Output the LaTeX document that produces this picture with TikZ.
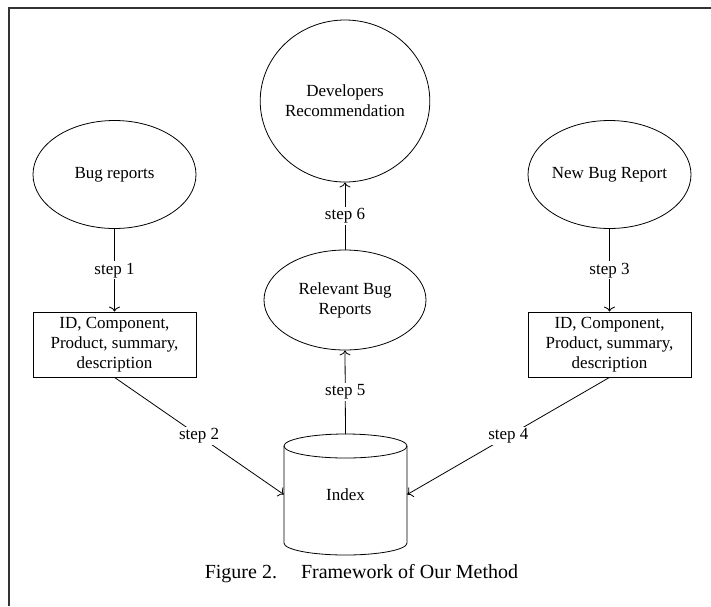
\documentclass[tikz,border=0pt]{standalone}
\usepackage{fontspec}
\setmainfont{Liberation Serif}
\usetikzlibrary{arrows.meta,shapes.geometric}
\begin{document}
\begin{tikzpicture}[x=1pt,y=-1pt,
  every node/.style={font=\fontsize{17}{20}\selectfont},
  oval/.style={draw, ellipse, inner sep=0pt, align=center, line width=0.8pt},
  infobox/.style={draw, rectangle, inner sep=0pt, minimum width=163pt, minimum height=65pt, align=center, line width=0.8pt},
  conn/.style={line width=0.8pt},
  arr/.style={conn, -{To[length=5pt,width=11pt]}},
  lbl/.style={fill=white, inner sep=1.5pt}
]
\useasboundingbox (0,0) rectangle (711,606);
% frame
\draw[line width=1.6pt, black!80] (9,606) -- (9,8) -- (711,8);

\node[oval, minimum width=161pt, minimum height=162pt] (dev) at (345,101) {Developers\\Recommendation};
\node[oval, minimum width=162pt, minimum height=100pt] (rel) at (345,300) {Relevant Bug\\Reports};
\node[oval, minimum width=163pt, minimum height=108pt] (bug) at (114.5,174.5) {Bug reports};
\node[oval, minimum width=163pt, minimum height=108pt] (new) at (609.5,174.5) {New Bug Report};

\node[infobox] (lbox) at (114.5,344.5) {ID, Component,\\Product, summary,\\description};
\node[infobox] (rbox) at (609.5,344.5) {ID, Component,\\Product, summary,\\description};

% cylinder
\node[inner sep=0pt, minimum width=123pt, minimum height=121pt] (idx) at (345.5,494.5) {Index};
\draw[conn] (345.5,446) ellipse (61.5pt and 12pt);
\draw[conn] (284,446) -- (284,543) arc (180:360:61.5pt and 12pt) -- (407,446);

\draw[arr] (bug.south) -- node[lbl] {step 1} (lbox.north);
\draw[arr] (new.south) -- node[lbl] {step 3} (rbox.north);
\draw[arr] (lbox.south) -- node[lbl] {step 2} (idx.west);
\draw[arr] (rbox.south) -- node[lbl] {step 4} (idx.east);
\draw[arr] (345.5,434) -- node[lbl] {step 5} (rel.south);
\draw[arr] (rel.north) -- node[lbl] {step 6} (dev.south);

\node[font=\fontsize{20}{24}\selectfont] (cap) at (361.5,574) {Figure 2.\hspace{1.2em}Framework of Our Method};
\end{tikzpicture}
\end{document}
